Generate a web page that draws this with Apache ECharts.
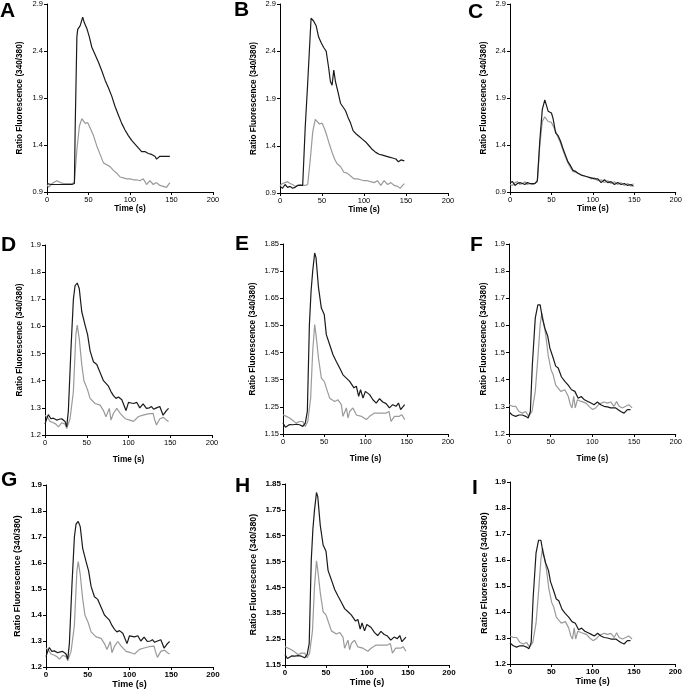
<!DOCTYPE html>
<html><head><meta charset="utf-8">
<script src="https://cdn.jsdelivr.net/npm/echarts@6/dist/echarts.min.js"></script>
<style>html,body{margin:0;padding:0;background:#fff}#c{width:685px;height:697px}</style>
</head><body><div id="c"></div>
<script>
// ---------- DATA ----------
const xTicks = [0, 50, 100, 150, 200];
const yTicksTop = [0.9, 1.4, 1.9, 2.4, 2.9];
const yTicksDF = [1.2, 1.3, 1.4, 1.5, 1.6, 1.7, 1.8, 1.9];
const yTicksE = [1.15, 1.25, 1.35, 1.45, 1.55, 1.65, 1.75, 1.85];
const panelLetters = ['A','B','C','D','E','F','G','H','I'];

const aBlackT = [0,5,10,15,20,25,30,33,34,36,37,40,43,45,48,51,54,58,62,66,70,74,78,82,86,90,94,98,102,106,110,114,118,122,126,130,132,134,136,140,144,148];
const aBlackV = [0.99,0.98,0.98,0.98,0.98,0.98,0.98,0.99,1.6,2.55,2.63,2.67,2.76,2.70,2.64,2.55,2.44,2.36,2.28,2.19,2.09,2.01,1.92,1.81,1.72,1.63,1.56,1.50,1.45,1.41,1.37,1.33,1.33,1.31,1.30,1.28,1.25,1.27,1.28,1.28,1.28,1.28];
const aGrayT = [0,2,5,8,12,16,20,25,30,33,36,39,42,44,46,49,52,56,60,64,68,72,76,80,84,88,92,96,100,104,108,112,116,120,124,128,132,136,140,144,148];
const aGrayV = [0.98,0.95,0.98,1.00,1.02,1.00,0.99,0.99,0.99,1.00,1.35,1.60,1.68,1.70,1.63,1.64,1.58,1.50,1.39,1.30,1.21,1.19,1.17,1.13,1.10,1.06,1.05,1.04,1.04,1.03,1.03,1.02,1.04,0.98,1.02,0.98,1.00,0.97,0.96,0.95,1.00];

const bBlackT = [0,3,6,9,12,15,18,21,24,27,30,33,35,37,40,43,46,49,52,55,58,60,62,64,66,69,72,75,78,81,84,87,90,94,98,102,106,110,114,118,122,126,130,134,138,141,144,148];
const bBlackV = [0.97,0.95,0.99,0.96,0.97,0.95,0.96,0.98,0.98,0.98,1.59,2.07,2.41,2.75,2.72,2.67,2.55,2.49,2.44,2.40,2.22,2.08,2.04,2.20,2.08,1.97,1.85,1.81,1.77,1.70,1.64,1.56,1.53,1.50,1.47,1.44,1.40,1.36,1.33,1.31,1.30,1.29,1.28,1.27,1.26,1.23,1.25,1.24];
const bGrayT = [0,3,6,9,12,15,18,21,24,27,30,33,36,39,42,44,47,50,53,56,59,62,65,68,72,76,80,84,88,92,96,100,104,108,112,116,120,124,128,132,136,140,143,146,148];
const bGrayV = [0.98,1.00,1.01,1.02,1.00,0.99,0.97,0.98,0.99,0.98,0.98,0.99,1.25,1.55,1.68,1.70,1.63,1.64,1.58,1.50,1.41,1.33,1.26,1.21,1.18,1.12,1.11,1.08,1.05,1.05,1.04,1.03,1.03,1.02,1.01,1.03,0.98,1.03,0.99,1.01,0.98,0.97,0.95,0.98,1.00];

const cT = [0,3,6,9,12,15,18,21,24,27,30,33,36,39,42,44,46,48,50,52,55,58,61,64,67,70,73,76,79,82,86,90,94,98,102,106,110,114,118,122,126,130,134,138,142,146,149];
const cBlackV = [1.0,1.01,0.97,0.99,1.00,0.99,0.98,1.00,0.99,0.99,0.99,1.02,1.45,1.78,1.88,1.87,1.76,1.75,1.74,1.68,1.53,1.50,1.44,1.36,1.29,1.22,1.18,1.13,1.12,1.10,1.08,1.07,1.06,1.05,1.04,1.04,1.00,1.03,1.00,1.01,0.98,1.00,0.98,0.99,0.97,0.98,0.96];
const cGrayV = [0.98,0.97,1.0,1.01,0.98,0.99,1.01,0.98,0.99,0.98,0.99,1.01,1.40,1.65,1.70,1.71,1.65,1.63,1.64,1.62,1.55,1.48,1.42,1.34,1.27,1.21,1.16,1.12,1.11,1.10,1.08,1.07,1.06,1.04,1.05,1.02,1.03,1.00,1.02,0.99,1.01,0.98,1.00,0.97,0.99,0.96,0.99];

const dBlackT = [0,2,4,7,10,14,17,20,24,26,28,31,34,36,38.6,41,44,48,51,54,58,62,66,70,73,76,79,82,85,88,92,94,97,100,103,106,110,113.5,117.5,121.5,125,127.5,130,133.5,137.5,141.4,145.4,148];
const dBlackV = [1.24,1.26,1.275,1.26,1.262,1.255,1.258,1.26,1.25,1.23,1.29,1.51,1.70,1.75,1.76,1.74,1.655,1.605,1.57,1.51,1.47,1.46,1.43,1.40,1.39,1.38,1.36,1.345,1.335,1.34,1.33,1.335,1.29,1.32,1.318,1.316,1.32,1.30,1.315,1.298,1.30,1.305,1.295,1.30,1.305,1.273,1.29,1.298];
const dGrayT = [0,3,6,10,13,16,20,24,26,30,34,37,38.6,41,44,46.6,50.6,54,60,66,70,73,74.5,77,79,82,86,90,96,101.6,106,112,117.5,123.5,129.5,131,133.5,137.5,142,145.4,148];
const dGrayV = [1.273,1.265,1.25,1.245,1.24,1.23,1.245,1.24,1.224,1.26,1.36,1.57,1.605,1.556,1.46,1.40,1.37,1.335,1.316,1.31,1.29,1.267,1.26,1.298,1.255,1.28,1.298,1.28,1.26,1.255,1.25,1.268,1.273,1.278,1.28,1.26,1.237,1.26,1.265,1.255,1.25];

const eBlackT = [0,3,5,8,12,16,20,24,27,29.5,32,34,36,38.4,40,43,46.5,50,52.5,56.6,60.6,64.6,68.7,72.7,76.8,80.8,83,86,88.9,91.7,94,97,99.8,105,109,113,117,121,125,129,133,137,140,142.6,147.5];
const eBlackV = [1.19,1.175,1.172,1.185,1.184,1.186,1.184,1.178,1.19,1.233,1.553,1.675,1.75,1.817,1.80,1.69,1.614,1.59,1.516,1.479,1.442,1.417,1.393,1.368,1.356,1.344,1.35,1.32,1.326,1.289,1.313,1.282,1.307,1.295,1.276,1.264,1.28,1.268,1.262,1.246,1.258,1.252,1.264,1.24,1.258];
const eGrayT = [0,4,8,12,16,20,24,27,30,33.5,36,38.4,40,43,46.5,50,52.5,56.6,62.6,66.7,70.7,72.7,74.7,76.8,78.8,80.8,84.8,88.9,95,101,105,111,119,125,128.5,131,135,141,144,147.5];
const eGrayV = [1.221,1.215,1.209,1.2,1.19,1.196,1.196,1.178,1.196,1.282,1.455,1.553,1.516,1.43,1.356,1.344,1.32,1.282,1.27,1.276,1.258,1.215,1.209,1.246,1.209,1.233,1.246,1.22,1.215,1.203,1.215,1.227,1.227,1.227,1.233,1.196,1.215,1.215,1.221,1.203];

const fBlackT = [0,4,8,12,16,20,23,25.6,28,31.5,34.6,37.4,40,43,46.5,49,53,56,59,63,67,71,75,79,83,86.6,90.5,94.5,98.4,102,106,110,114,118,122,128,134,138,142,145.7];
const fBlackV = [1.281,1.27,1.265,1.27,1.27,1.265,1.259,1.283,1.455,1.627,1.676,1.676,1.627,1.59,1.56,1.517,1.48,1.45,1.443,1.41,1.394,1.38,1.363,1.357,1.332,1.338,1.326,1.32,1.314,1.308,1.318,1.308,1.302,1.30,1.296,1.296,1.283,1.277,1.29,1.29];
const fGrayT = [0,4,8,12,16,20,23.6,27.6,31.5,34.6,37.4,39.4,41.3,44,47,50.4,53,56,59,62,67,71,73.6,75.6,77.6,79.5,82,86.6,92.5,96.5,100.4,104,108,114,118,122,126,129,132,136,140,143.7,147.6];
const fGrayV = [1.308,1.302,1.302,1.283,1.277,1.283,1.265,1.283,1.357,1.48,1.603,1.646,1.615,1.566,1.49,1.437,1.418,1.38,1.369,1.357,1.363,1.339,1.308,1.296,1.339,1.296,1.326,1.32,1.314,1.30,1.29,1.296,1.31,1.318,1.314,1.318,1.302,1.32,1.302,1.296,1.302,1.308,1.296];

// ---------- BUILD ----------
const zip = (t, v) => t.map((x, i) => [x, v[i]]);
const FONT = '"Liberation Sans", Arial, sans-serif';

const panels = [
  {g:[47,4,166,188],   yt:yTicksTop, k:[aBlackT,aBlackV,aGrayT,aGrayV], row:1, ng:23, lt:[0,1]},
  {g:[280,3,168,190],  yt:yTicksTop, k:[bBlackT,bBlackV,bGrayT,bGrayV], row:1, ng:22, lt:[234,0]},
  {g:[510,3,166,189],  yt:yTicksTop, k:[cT,cBlackV,cT,cGrayV], row:1, ng:22, lt:[468,2]},
  {g:[45,245,167,190], yt:yTicksDF,  k:[dBlackT,dBlackV,dGrayT,dGrayV], row:2, ng:21, lt:[1,235]},
  {g:[283,244,165,190],yt:yTicksE,   k:[eBlackT,eBlackV,eGrayT,eGrayV], row:2, ng:26, lt:[235,234]},
  {g:[509,244,170,190],yt:yTicksDF,  k:[fBlackT,fBlackV,fGrayT,fGrayV], row:2, ng:21, lt:[470,235]},
  {g:[46,485,167,182], yt:yTicksDF,  k:[dBlackT,dBlackV,dGrayT,dGrayV], row:3, ng:24, lt:[1,470]},
  {g:[285,484,164,181],yt:yTicksE,   k:[eBlackT,eBlackV,eGrayT,eGrayV], row:3, ng:27, lt:[235,476]},
  {g:[510,482,169,182],yt:yTicksDF,  k:[fBlackT,fBlackV,fGrayT,fGrayV], row:3, ng:21, lt:[472,478]}
];

const grid = [], xAxis = [], yAxis = [], series = [], title = [];
panels.forEach((p, i) => {
  const bold = p.row === 3;
  grid.push({left:p.g[0], top:p.g[1], width:p.g[2], height:p.g[3], containLabel:false});
  const axLine = {show:true, lineStyle:{color:'#000', width:1}};
  const tick = {show:true, inside:false, length:3, lineStyle:{color:'#000', width:1}};
  xAxis.push({
    type:'value', gridIndex:i, min:xTicks[0], max:xTicks[xTicks.length-1],
    axisLine:axLine, axisTick:Object.assign({customValues:xTicks}, tick),
    axisLabel:{customValues:xTicks, fontSize: bold?8:7.5, fontWeight: bold?'bold':'normal', color:'#000', fontFamily:FONT, margin:4},
    splitLine:{show:false},
    name:'Time (s)', nameLocation:'middle', nameGap: p.row===1?9:(p.row===2?21:13),
    nameTextStyle:{fontSize: bold?9:8.3, fontWeight:'bold', color:'#000', fontFamily:FONT}
  });
  yAxis.push({
    type:'value', gridIndex:i, min:p.yt[0], max:p.yt[p.yt.length-1],
    axisLine:axLine, axisTick:Object.assign({customValues:p.yt}, tick),
    axisLabel:{customValues:p.yt, fontSize: bold?8:7.5, fontWeight: bold?'bold':'normal', color:'#000', fontFamily:FONT, margin:4,
      formatter: v => String(v)},
    splitLine:{show:false},
    name:'Ratio Fluorescence (340/380)', nameLocation:'middle', nameRotate:90, nameGap:p.ng,
    nameTextStyle:{fontSize: bold?8.8:8.2, fontWeight:'bold', color:'#000', fontFamily:FONT}
  });
  series.push({type:'line', xAxisIndex:i, yAxisIndex:i, data:zip(p.k[2], p.k[3]), showSymbol:false, smooth:false,
    lineStyle:{color:'#9a9a9a', width:1.2}, silent:true, animation:false});
  series.push({type:'line', xAxisIndex:i, yAxisIndex:i, data:zip(p.k[0], p.k[1]), showSymbol:false, smooth:false,
    lineStyle:{color:'#1a1a1a', width:1.2}, silent:true, animation:false});
  title.push({text:panelLetters[i], left:p.lt[0], top:p.lt[1], padding:0,
    textStyle:{fontSize:21, fontWeight:'bold', color:'#000', fontFamily:FONT}});
});

const chart = echarts.init(document.getElementById('c'), null, {renderer:'canvas'});
chart.setOption({backgroundColor:'#fff', animation:false, title, grid, xAxis, yAxis, series});
</script>
</body></html>
